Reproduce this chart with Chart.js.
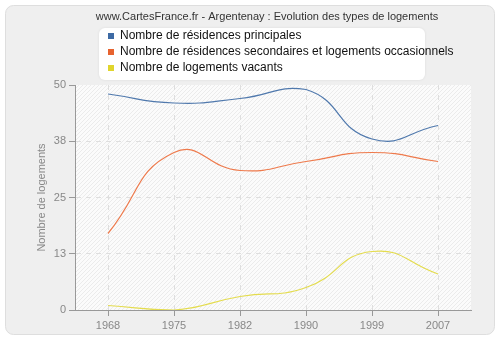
<!DOCTYPE html>
<html>
<head>
<meta charset="utf-8">
<script src="https://cdn.jsdelivr.net/npm/chart.js@4.4.1/dist/chart.umd.min.js"></script>
<style>
  html, body { margin: 0; padding: 0; background: #fff; }
  #wrap { width: 500px; height: 340px; }
</style>
</head>
<body>
<div id="wrap"><canvas id="chart" width="500" height="340"></canvas></div>
<script>
// data
const years = ['1968', '1975', '1982', '1990', '1999', '2007'];
const principales = [48, 46, 47, 49, 38, 41];
const secondaires = [17, 35, 31, 33, 35, 33];
const vacants = [1, 0, 3, 5, 13, 8];
const yTickValues = [0, 12.5, 25, 37.5, 50];
const yTickLabels = ['0', '13', '25', '38', '50'];

const titleText = 'www.CartesFrance.fr - Argentenay : Evolution des types de logements';
const FONT = '"Liberation Sans", Arial, sans-serif';

function roundRect(ctx, x, y, w, h, r) {
    ctx.beginPath();
    ctx.moveTo(x + r, y);
    ctx.arcTo(x + w, y, x + w, y + h, r);
    ctx.arcTo(x + w, y + h, x, y + h, r);
    ctx.arcTo(x, y + h, x, y, r);
    ctx.arcTo(x, y, x + w, y, r);
    ctx.closePath();
}

// frame, hatched plot background, title and legend box
const decor = {
    id: 'decor',
    beforeDraw(chart) {
        const ctx = chart.ctx;
        const a = chart.chartArea;
        ctx.save();
        ctx.fillStyle = '#fff';
        ctx.fillRect(0, 0, chart.width, chart.height);
        roundRect(ctx, 5.5, 5.5, 489, 329, 8);
        ctx.fillStyle = '#efefef';
        ctx.fill();
        ctx.strokeStyle = '#dedede';
        ctx.lineWidth = 1;
        ctx.stroke();

        ctx.fillStyle = '#fbfbfb';
        ctx.fillRect(a.left, a.top, a.right - a.left, a.bottom - a.top);
        ctx.beginPath();
        ctx.rect(a.left, a.top, a.right - a.left, a.bottom - a.top);
        ctx.clip();
        ctx.strokeStyle = '#ebebeb';
        const h = a.bottom - a.top;
        ctx.beginPath();
        for (let k = -h; k < a.right - a.left; k += 4) {
            ctx.moveTo(a.left + k, a.bottom);
            ctx.lineTo(a.left + k + h, a.top);
        }
        ctx.stroke();
        ctx.restore();
    },
    afterDraw(chart) {
        const ctx = chart.ctx;
        ctx.save();
        ctx.fillStyle = '#333';
        ctx.font = '11px ' + FONT;
        ctx.textAlign = 'center';
        ctx.textBaseline = 'middle';
        ctx.fillText(titleText, 267, 17);

        // legend
        ctx.shadowColor = 'rgba(0,0,0,0.08)';
        ctx.shadowBlur = 3;
        roundRect(ctx, 99, 28, 326, 52, 6);
        ctx.fillStyle = '#fff';
        ctx.fill();
        ctx.shadowBlur = 0;
        ctx.shadowColor = 'transparent';
        ctx.textAlign = 'left';
        ctx.font = '12px ' + FONT;
        chart.data.datasets.forEach((ds, i) => {
            const y = 36 + i * 16;
            ctx.fillStyle = ds.legendColor;
            ctx.fillRect(108, y - 3, 6, 6);
            ctx.fillStyle = '#111';
            ctx.fillText(ds.label, 120, y);
        });
        ctx.restore();
    }
};

new Chart(document.getElementById('chart'), {
    type: 'line',
    data: {
        labels: years,
        datasets: [{
            label: 'Nombre de résidences principales',
            data: principales,
            borderColor: '#5079ad',
            legendColor: '#3d6aa4'
        }, {
            label: 'Nombre de résidences secondaires et logements occasionnels',
            data: secondaires,
            borderColor: '#ee7a4c',
            legendColor: '#e7632f'
        }, {
            label: 'Nombre de logements vacants',
            data: vacants,
            borderColor: '#e4dc4e',
            legendColor: '#e0d52c'
        }]
    },
    options: {
        responsive: false,
        animation: false,
        layout: { padding: { left: 5, top: 85, right: 29, bottom: 5 } },
        elements: {
            line: { tension: 0.5, borderWidth: 1.2, fill: false },
            point: { radius: 0 }
        },
        plugins: {
            legend: { display: false },
            title: { display: false },
            tooltip: { enabled: false }
        },
        scales: {
            x: {
                type: 'category',
                offset: true,
                afterFit: s => { s.height = 25; },
                grid: {
                    color: '#dedede',
                    tickColor: '#999',
                    tickLength: 6
                },
                border: { color: '#999', dash: [5, 5] },
                ticks: { color: '#888', font: { family: FONT, size: 11 }, padding: 3 }
            },
            y: {
                min: 0,
                max: 50,
                afterFit: s => { s.width = 70; },
                afterBuildTicks: s => { s.ticks = yTickValues.map(v => ({ value: v })); },
                grid: {
                    color: c => (c.tick && (c.tick.value === 0 || c.tick.value === 50)) ? 'rgba(0,0,0,0)' : '#dedede',
                    tickColor: '#999',
                    tickLength: 6
                },
                border: { color: '#999', dash: [5, 5] },
                ticks: {
                    color: '#888',
                    font: { family: FONT, size: 11 },
                    padding: 3,
                    callback: (v, i) => yTickLabels[i]
                },
                title: {
                    display: true,
                    text: 'Nombre de logements',
                    color: '#888',
                    font: { family: FONT, size: 11 },
                    padding: { top: 30, bottom: 0 }
                }
            }
        }
    },
    plugins: [decor]
});
</script>
</body>
</html>
